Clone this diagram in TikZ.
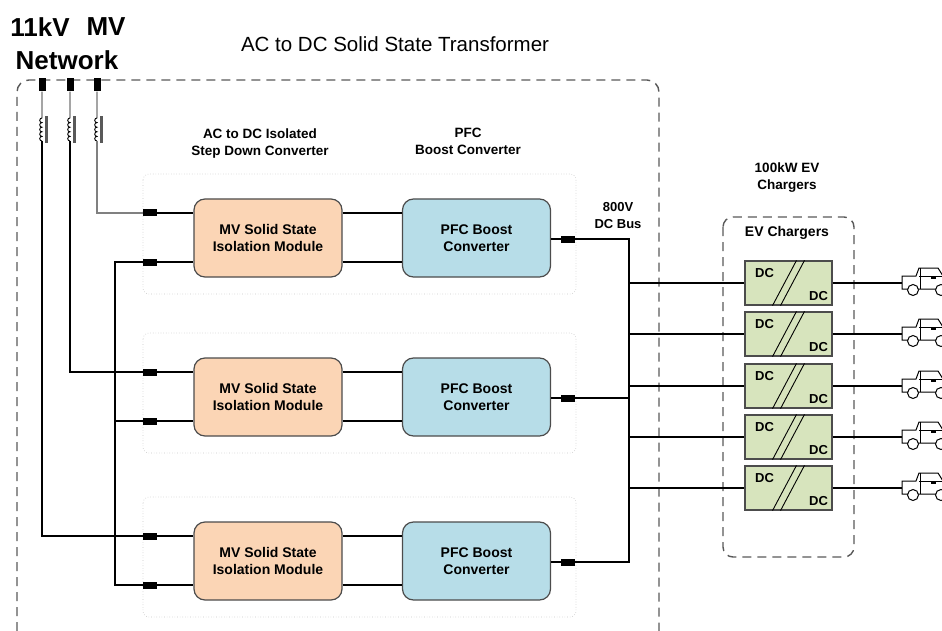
\documentclass[tikz,border=0pt]{standalone}
\usepackage{fontspec}
\setmainfont{Liberation Sans}

\definecolor{mvfill}{HTML}{FBD5B5}
\definecolor{pfcfill}{HTML}{B7DDE8}
\definecolor{dcfill}{HTML}{D7E4BD}
\definecolor{framegray}{HTML}{595959}

\tikzset{
    wire/.style={line width=2pt},
    module/.style={draw=black!70, line width=1.2pt, rounded corners=11pt,
        minimum width=148pt, minimum height=78pt, inner sep=0pt, align=center,
        font=\bfseries\fontsize{14}{17}\selectfont},
    mvbox/.style={module, fill=mvfill},
    pfcbox/.style={module, fill=pfcfill},
    term/.style={fill=black, inner sep=0pt, minimum width=14pt, minimum height=7pt},
    interm/.style={fill=black, inner sep=0pt, minimum width=7pt, minimum height=13pt},
    dcbox/.style={draw=black!70, line width=1.2pt, fill=dcfill, inner sep=0pt,
        minimum width=87pt, minimum height=44pt},
    dclabel/.style={inner sep=0pt, font=\bfseries\fontsize{13}{15}\selectfont},
    note/.style={inner sep=0pt, align=center, font=\bfseries\fontsize{13.5}{17}\selectfont},
    outerframe/.style={draw=framegray, line width=1.4pt, dash pattern=on 9pt off 6pt,
        rounded corners=12pt},
    rowbox/.style={draw=gray!45, dotted, line width=0.6pt, rounded corners=6pt},
    evcar/.pic={
        \draw[line width=1pt, fill=white] (0,-7) -- (14,-7) -- (17,-15) -- (36,-15)
            -- (41,-7) -- (48,-7) -- (48,6) -- (0,6) -- cycle;
        \draw[line width=1pt] (18,-15) -- (18,6);
        \draw[line width=1pt] (17,-7) -- (41,-7);
        \fill (29,-7) rectangle (34,-4);
        \draw[line width=1pt, fill=white] (11,7) circle (5.5);
        \draw[line width=1pt, fill=white] (39,7) circle (5.5);
    }
}

\begin{document}
\begin{tikzpicture}[x=1pt,y=-1pt]
            \useasboundingbox (0,0) rectangle (942,631);

            %titoli
            \node[font=\bfseries\fontsize{26}{30}\selectfont] (t11kv) at (40,27) {11kV};
            \node[font=\bfseries\fontsize{26}{30}\selectfont] (tmv) at (106,27) {MV};
            \node[font=\bfseries\fontsize{26}{30}\selectfont] (tnet) at (67,60) {Network};
            \node[font=\fontsize{20.5}{24}\selectfont] (tsst) at (395,44) {AC to DC Solid State Transformer};

            %cornice tratteggiata
            \draw[outerframe] (17,631) -- (17,80) -- (659,80) -- (659,631);

            %fasce dei moduli
            \foreach \y in {174,333,497}
                \draw[rowbox] (143,\y) rectangle (576,\y+120);

            \node[note] (lsd) at (260,143.5) {AC to DC Isolated\\Step Down Converter};
            \node[note] (lpfc) at (468,141.5) {PFC\\Boost Converter};

            %moduli e collegamenti
            \foreach \r/\y in {1/238,2/397,3/561} {
                \node[mvbox] (mv\r) at (268,\y) {MV Solid State\\Isolation Module};
                \node[pfcbox] (pfc\r) at (476.5,\y) {PFC Boost\\Converter};
                \node[term] (ta\r) at (150,\y-25) {};
                \node[term] (tb\r) at (150,\y+24) {};
                \node[term] (to\r) at (568,\y+1) {};
                \draw[wire] (ta\r.east) -- (mv\r.west |- ta\r);
                \draw[wire] (tb\r.east) -- (mv\r.west |- tb\r);
                \draw[wire] (mv\r.east |- ta\r) -- (pfc\r.west |- ta\r);
                \draw[wire] (mv\r.east |- tb\r) -- (pfc\r.west |- tb\r);
                \draw[wire] (pfc\r.east |- to\r) -- (to\r.west);
            }

            %ingressi con bobine
            \foreach \x/\n in {42/1,70/2,97/3} {
                \node[interm] (in\n) at (\x,85) {};
                \coordinate (c\n) at (\x,118);
                \coordinate (d\n) at (\x,141);
                \draw[line width=0.9pt] (in\n.south) -- (c\n)
                    \foreach \k in {1,...,5} {arc[start angle=270, end angle=90, radius=2.3]};
                \fill[black!65] (\x+3,116) rectangle (\x+6,143);
            }
            \draw[wire] (d1) |- (ta3.west);
            \draw[wire] (d2) |- (ta2.west);
            \draw[line width=1.2pt, black!50] (d3) |- (ta1.west);

            %ritorno comune
            \coordinate (nl) at (115,0);
            \draw[wire] (tb1.west) -| (nl |- tb3) -- (tb3.west);
            \draw[wire] (nl |- tb2) -- (tb2.west);

            %bus in continua
            \coordinate (bus) at (629,0);
            \draw[wire] (to1.east) -| (bus |- to3) -- (to3.east);
            \draw[wire] (to2.east) -- (bus |- to2);
            \node[note, font=\bfseries\fontsize{13}{17}\selectfont] (lbus) at (618,216) {800V\\DC Bus};

            %caricatori
            \node[note] (lev) at (787,178) {100kW EV\\Chargers};
            \draw[outerframe, rounded corners=10pt] (723,217) rectangle (854,557);
            \node[note, font=\bfseries\fontsize{14}{17}\selectfont] (lbox) at (787,233) {EV Chargers};
            \foreach \i/\yc in {1/283,2/334,3/386,4/437,5/488} {
                \node[dcbox] (dc\i) at (788.5,\yc) {};
                \node[dclabel] (dca\i) at ([xshift=-24pt,yshift=10pt]dc\i.center) {DC};
                \node[dclabel] (dcb\i) at ([xshift=30pt,yshift=-13pt]dc\i.center) {DC};
                \draw[line width=0.9pt] ([xshift=-16pt]dc\i.south) -- ([xshift=8pt]dc\i.north);
                \draw[line width=0.9pt] ([xshift=-8pt]dc\i.south) -- ([xshift=16pt]dc\i.north);
                \coordinate (car\i) at (902,\yc);
                \draw[wire] (bus |- dc\i.west) -- (dc\i.west);
                \draw[wire] (dc\i.east) -- (car\i);
                \pic at (car\i) {evcar};
            }

        \end{tikzpicture}
\end{document}
